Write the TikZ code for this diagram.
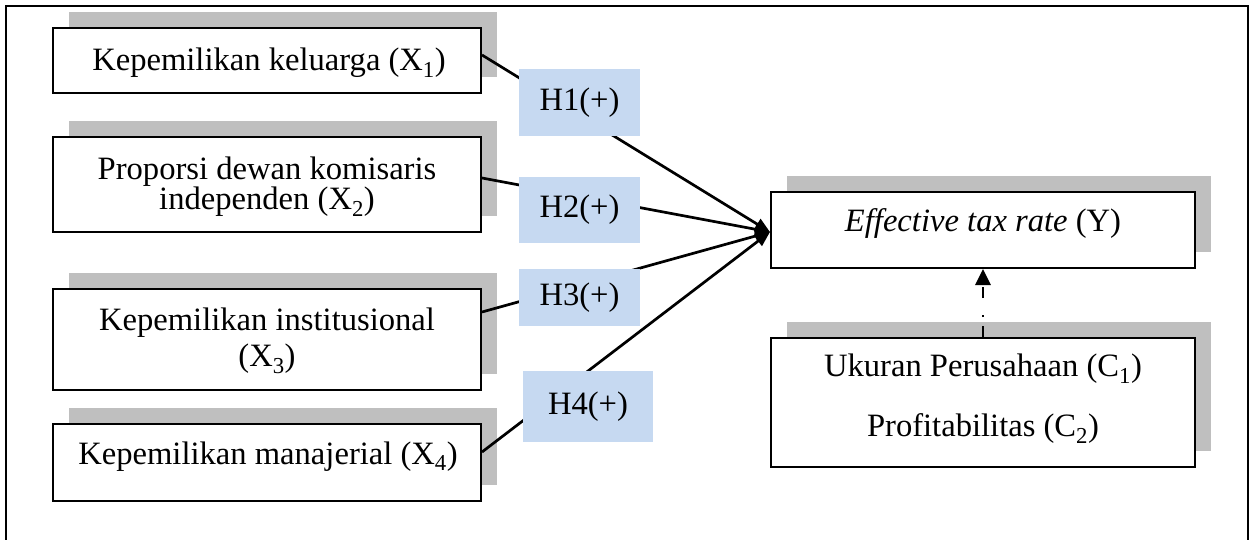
\documentclass[tikz,border=0pt]{standalone}
\usepackage{fontspec}
\setmainfont{Liberation Serif}
\usetikzlibrary{arrows.meta,shadows}
\definecolor{shadowgray}{RGB}{191,191,191}
\definecolor{hypblue}{RGB}{198,217,241}
\begin{document}
\begin{tikzpicture}[x=1pt,y=-1pt,
  font=\fontsize{32.6}{38}\selectfont,
  box/.style={draw, line width=2pt, fill=white, inner sep=0pt,
    drop shadow={shadow xshift=16pt, shadow yshift=16pt, fill=shadowgray, opacity=1}},
  hyp/.style={fill=hypblue, inner sep=0pt},
  txt/.style={anchor=base, inner sep=0pt},
  link/.style={line width=2.7pt, -{Triangle[length=15pt,width=12pt]}},
  ctrl/.style={line width=2.7pt, dash pattern=on 11pt off 9pt on 2.5pt off 16.5pt,
    -{Triangle[length=16pt,width=15pt]}},
  frame/.style={line width=2.2pt}
]
\useasboundingbox (0,0) rectangle (1253,540);
\clip (0,0) rectangle (1253,540);
\draw[frame] (6,560) -- (6,6) -- (1248,6) -- (1248,560);

% independent variable boxes
\node[box, minimum width=428pt, minimum height=65pt] (x1) at (267,60.5) {};
\node[box, minimum width=428pt, minimum height=95pt] (x2) at (267,184.5) {};
\node[box, minimum width=428pt, minimum height=101pt] (x3) at (267,339.5) {};
\node[box, minimum width=428pt, minimum height=77pt] (x4) at (267,462.5) {};
% dependent and control boxes
\node[box, minimum width=424pt, minimum height=76pt] (y) at (983,230) {};
\node[box, minimum width=424pt, minimum height=129pt] (c) at (983,402.5) {};

% texts
\node[txt] (t1) at (269,71) {Kepemilikan keluarga (X\textsubscript{1})};
\node[txt] (t2a) at (267,179.3) {Proporsi dewan komisaris};
\node[txt] (t2b) at (267,210) {independen (X\textsubscript{2})};
\node[txt] (t3a) at (267,330) {Kepemilikan institusional};
\node[txt] (t3b) at (267,366.7) {(X\textsubscript{3})};
\node[txt] (t4) at (268,464) {Kepemilikan manajerial (X\textsubscript{4})};
\node[txt] (ty) at (983,231.7) {\textit{Effective tax rate} (Y)};
\node[txt] (tc1) at (983,376.7) {Ukuran Perusahaan (C\textsubscript{1})};
\node[txt] (tc2) at (983,436.7) {Profitabilitas (C\textsubscript{2})};

% connectors
\coordinate (tip) at ([yshift=-2pt]y.west);
\draw[link] ([yshift=5.5pt]x1.east) -- (tip);
\draw[link] ([yshift=6.5pt]x2.east) -- (tip);
\draw[link] ([yshift=27.5pt]x3.east) -- (tip);
\draw[link] ([yshift=10.5pt]x4.east) -- (tip);
\draw[ctrl] (c.north) -- (y.south);

% hypothesis labels
\node[hyp, minimum width=121pt, minimum height=67pt] (h1) at (579.5,102.5) {H1(+)};
\node[hyp, minimum width=121pt, minimum height=66pt] (h2) at (579.5,210) {H2(+)};
\node[hyp, minimum width=121pt, minimum height=57pt] (h3) at (579.5,297.5) {H3(+)};
\node[hyp, minimum width=130pt, minimum height=71pt] (h4) at (588,406.5) {H4(+)};
\end{tikzpicture}
\end{document}
